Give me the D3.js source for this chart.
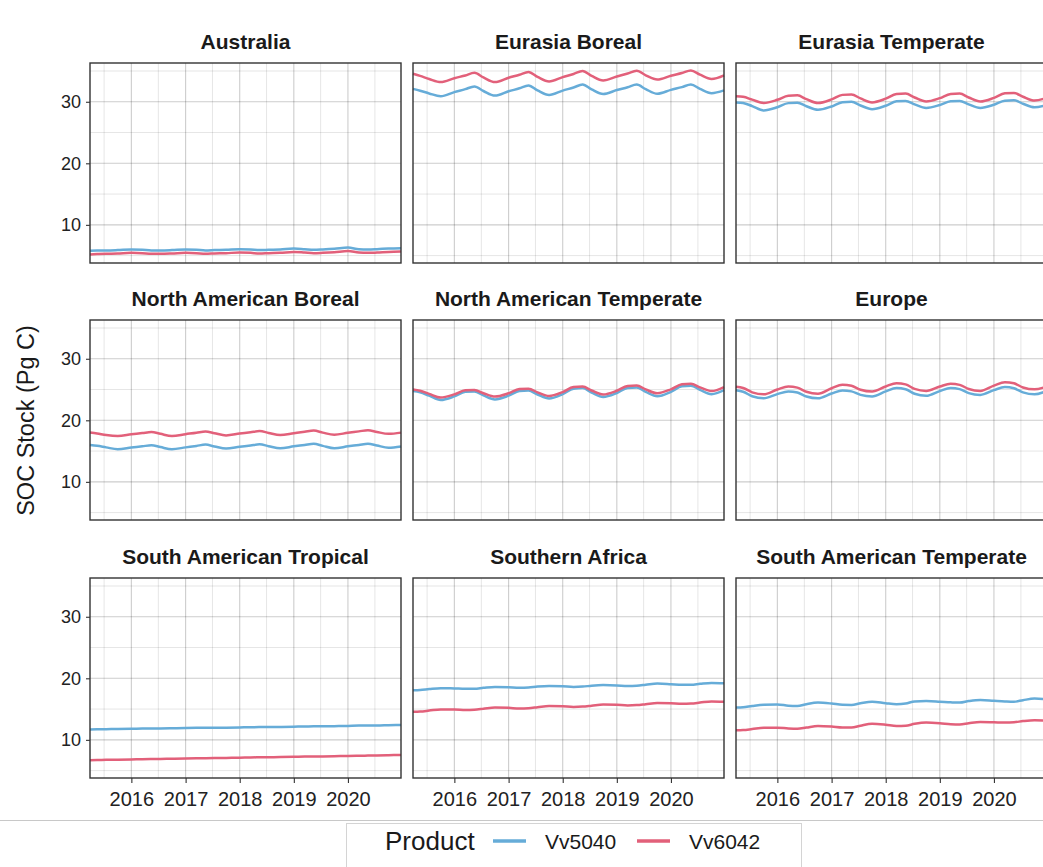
<!DOCTYPE html>
<html>
<head>
<meta charset="utf-8">
<script src="https://cdn.jsdelivr.net/npm/d3@7"></script>
<style>
  body { margin: 0; background: #fff; }
  text { font-family: "Liberation Sans", Arial, Helvetica, sans-serif; }
</style>
</head>
<body>
<svg id="chart"></svg>
<script>
// sample dates shared by every series
const dates = ["2015-03-28", "2015-05-15", "2015-07-15", "2015-10-01",
  "2016-01-01", "2016-03-15", "2016-05-15", "2016-07-15", "2016-10-01",
  "2017-01-01", "2017-03-15", "2017-05-15", "2017-07-15", "2017-10-01",
  "2018-01-01", "2018-03-15", "2018-05-15", "2018-07-15", "2018-10-01",
  "2019-01-01", "2019-03-15", "2019-05-15", "2019-07-15", "2019-10-01",
  "2020-01-01", "2020-03-15", "2020-05-15", "2020-07-15", "2020-10-01",
  "2020-12-24"];

const regions = ["Australia", "Eurasia Boreal", "Eurasia Temperate",
  "North American Boreal", "North American Temperate", "Europe",
  "South American Tropical", "Southern Africa", "South American Temperate"];

const products = ["Vv5040", "Vv6042"];
const yTicks = [10, 20, 30];
const xTickYears = [2016, 2017, 2018, 2019, 2020];

const australia5040 = [5.8, 5.85, 5.85, 5.9, 6.0, 5.95, 5.85, 5.85, 5.9, 6.0, 5.95, 5.85, 5.9, 5.95, 6.05, 6.0, 5.9, 5.95, 6.0, 6.15, 6.05, 5.95, 6.0, 6.1, 6.3, 6.05, 6.0, 6.05, 6.15, 6.2];
const australia6042 = [5.2, 5.25, 5.3, 5.35, 5.45, 5.4, 5.3, 5.3, 5.35, 5.45, 5.4, 5.3, 5.35, 5.4, 5.5, 5.45, 5.35, 5.4, 5.45, 5.6, 5.5, 5.4, 5.45, 5.55, 5.75, 5.5, 5.45, 5.5, 5.6, 5.65];
const eurasiaBoreal5040 = [32.1, 31.8, 31.35, 30.9, 31.57, 32.05, 32.5, 31.75, 31.0, 31.7, 32.19, 32.65, 31.85, 31.1, 31.81, 32.32, 32.8, 32.0, 31.25, 31.9, 32.37, 32.8, 32.05, 31.3, 31.93, 32.38, 32.8, 32.1, 31.4, 31.85];
const eurasiaBoreal6042 = [34.55, 34.2, 33.7, 33.2, 33.83, 34.28, 34.7, 33.95, 33.2, 33.9, 34.39, 34.85, 34.05, 33.3, 34.0, 34.52, 35.0, 34.2, 33.45, 34.1, 34.6, 35.05, 34.3, 33.6, 34.23, 34.68, 35.1, 34.4, 33.7, 34.3];
const eurasiaTemperate5040 = [29.9, 29.8, 29.3, 28.6, 29.12, 29.78, 29.84, 29.28, 28.7, 29.24, 29.93, 29.99, 29.4, 28.8, 29.36, 30.07, 30.14, 29.58, 29.0, 29.48, 30.09, 30.14, 29.58, 29.0, 29.52, 30.18, 30.24, 29.68, 29.1, 29.5];
const eurasiaTemperate6042 = [30.9, 30.8, 30.35, 29.8, 30.32, 30.98, 31.04, 30.42, 29.8, 30.38, 31.12, 31.18, 30.55, 29.9, 30.5, 31.27, 31.33, 30.7, 30.05, 30.59, 31.28, 31.33, 30.7, 30.05, 30.63, 31.37, 31.44, 30.82, 30.2, 30.64];
const naBoreal5040 = [16.0, 15.85, 15.6, 15.3, 15.57, 15.77, 15.95, 15.65, 15.3, 15.6, 15.84, 16.05, 15.75, 15.4, 15.69, 15.9, 16.1, 15.8, 15.45, 15.77, 16.0, 16.2, 15.85, 15.45, 15.77, 16.0, 16.2, 15.9, 15.55, 15.75];
const naBoreal6042 = [18.0, 17.85, 17.6, 17.45, 17.72, 17.92, 18.1, 17.8, 17.45, 17.75, 17.98, 18.2, 17.9, 17.55, 17.84, 18.05, 18.25, 17.95, 17.6, 17.9, 18.14, 18.35, 18.0, 17.65, 17.97, 18.2, 18.4, 18.1, 17.8, 18.0];
const naTemperate5040 = [24.75, 24.55, 24.0, 23.3, 23.88, 24.62, 24.68, 24.05, 23.4, 24.0, 24.77, 24.83, 24.2, 23.55, 24.25, 25.14, 25.23, 24.52, 23.8, 24.44, 25.26, 25.33, 24.62, 23.9, 24.62, 25.54, 25.63, 24.95, 24.25, 24.9];
const naTemperate6042 = [25.0, 24.8, 24.3, 23.7, 24.22, 24.88, 24.94, 24.4, 23.85, 24.39, 25.08, 25.14, 24.55, 23.95, 24.59, 25.41, 25.48, 24.85, 24.2, 24.8, 25.57, 25.64, 25.02, 24.4, 25.04, 25.86, 25.94, 25.35, 24.75, 25.4];
const europe5040 = [24.9, 24.64, 23.91, 23.58, 24.26, 24.7, 24.52, 23.87, 23.58, 24.35, 24.85, 24.7, 24.13, 23.88, 24.71, 25.24, 25.04, 24.31, 23.98, 24.75, 25.25, 25.07, 24.42, 24.13, 24.9, 25.4, 25.21, 24.54, 24.23, 24.8];
const europe6042 = [25.45, 25.25, 24.55, 24.22, 25.0, 25.5, 25.31, 24.64, 24.33, 25.21, 25.79, 25.62, 24.97, 24.68, 25.5, 26.04, 25.84, 25.11, 24.78, 25.49, 25.95, 25.76, 25.09, 24.78, 25.64, 26.19, 26.01, 25.34, 25.03, 25.5];
const saTropical5040 = [11.7, 11.72, 11.74, 11.76, 11.8, 11.84, 11.86, 11.86, 11.88, 11.92, 11.95, 11.96, 11.96, 11.98, 12.02, 12.06, 12.07, 12.07, 12.1, 12.14, 12.18, 12.19, 12.19, 12.22, 12.27, 12.32, 12.33, 12.33, 12.38, 12.42];
const saTropical6042 = [6.7, 6.72, 6.75, 6.78, 6.82, 6.86, 6.88, 6.9, 6.93, 6.97, 7.0, 7.02, 7.04, 7.07, 7.1, 7.14, 7.16, 7.18, 7.2, 7.24, 7.28, 7.3, 7.31, 7.34, 7.38, 7.42, 7.44, 7.46, 7.5, 7.55];
const southernAfrica5040 = [18.05, 18.1, 18.25, 18.4, 18.35, 18.3, 18.3, 18.45, 18.6, 18.55, 18.45, 18.5, 18.65, 18.75, 18.7, 18.6, 18.65, 18.8, 18.9, 18.85, 18.75, 18.8, 18.95, 19.15, 19.05, 18.95, 18.95, 19.1, 19.25, 19.2];
const southernAfrica6042 = [14.55, 14.6, 14.75, 14.95, 14.95, 14.85, 14.9, 15.05, 15.25, 15.2, 15.1, 15.15, 15.3, 15.5, 15.45, 15.35, 15.4, 15.55, 15.75, 15.7, 15.6, 15.65, 15.8, 16.0, 15.95, 15.85, 15.9, 16.05, 16.25, 16.2];
const saTemperate5040 = [15.24, 15.3, 15.5, 15.7, 15.75, 15.55, 15.5, 15.8, 16.05, 15.9, 15.7, 15.68, 15.95, 16.2, 15.95, 15.8, 15.9, 16.25, 16.3, 16.2, 16.1, 16.05, 16.3, 16.48, 16.35, 16.25, 16.2, 16.45, 16.7, 16.6];
const saTemperate6042 = [11.55, 11.6, 11.75, 11.95, 11.98, 11.85, 11.8, 12.0, 12.25, 12.15, 12.0, 12.0, 12.3, 12.6, 12.45, 12.25, 12.3, 12.6, 12.8, 12.7, 12.55, 12.5, 12.7, 12.9, 12.85, 12.8, 12.85, 13.05, 13.2, 13.1];

// series per region, same order as regions[]
const seriesByRegion = [
  [australia5040, australia6042],
  [eurasiaBoreal5040, eurasiaBoreal6042],
  [eurasiaTemperate5040, eurasiaTemperate6042],
  [naBoreal5040, naBoreal6042],
  [naTemperate5040, naTemperate6042],
  [europe5040, europe6042],
  [saTropical5040, saTropical6042],
  [southernAfrica5040, southernAfrica6042],
  [saTemperate5040, saTemperate6042]
];

const width = 1043, height = 867;
const colors = {Vv5040: "#66acd8", Vv6042: "#e2607a"};

const svg = d3.select("#chart")
  .attr("width", width)
  .attr("height", height);

// facet layout
const panelW = 311, panelH = 200;
const colX = [90, 413, 736];
const rowY = [63, 320, 578];

const parse = d3.timeParse("%Y-%m-%d");
const times = dates.map(parse);

const x = d3.scaleTime()
  .domain(d3.extent(times))
  .range([0, panelW]);

const y = d3.scaleLinear()
  .domain([3.8, 36.3])
  .range([panelH, 0]);

const line = d3.line()
  .x(d => x(d.t))
  .y(d => y(d.v))
  .curve(d3.curveMonotoneX);

const majorX = xTickYears.map(yr => new Date(yr, 0, 1));
const minorX = d3.range(2015, 2021).map(yr => new Date(yr, 6, 1));
const minorY = [5, 15, 25, 35];

regions.forEach((name, i) => {
  const col = i % 3, row = Math.floor(i / 3);
  const g = svg.append("g")
    .attr("transform", `translate(${colX[col]},${rowY[row]})`);

  g.append("rect")
    .attr("width", panelW).attr("height", panelH)
    .attr("fill", "#fff");

  // grid: minor first, then major
  g.selectAll(".gminy").data(minorY).join("line")
    .attr("x1", 0).attr("x2", panelW)
    .attr("y1", d => y(d)).attr("y2", d => y(d))
    .attr("stroke", "#000").attr("stroke-opacity", 0.1).attr("stroke-width", 1);
  g.selectAll(".gminx").data(minorX).join("line")
    .attr("y1", 0).attr("y2", panelH)
    .attr("x1", d => x(d)).attr("x2", d => x(d))
    .attr("stroke", "#000").attr("stroke-opacity", 0.1).attr("stroke-width", 1);
  g.selectAll(".gmajy").data(yTicks).join("line")
    .attr("x1", 0).attr("x2", panelW)
    .attr("y1", d => y(d)).attr("y2", d => y(d))
    .attr("stroke", "#000").attr("stroke-opacity", 0.2).attr("stroke-width", 1.1);
  g.selectAll(".gmajx").data(majorX).join("line")
    .attr("y1", 0).attr("y2", panelH)
    .attr("x1", d => x(d)).attr("x2", d => x(d))
    .attr("stroke", "#000").attr("stroke-opacity", 0.2).attr("stroke-width", 1.1);

  // the two product lines
  products.forEach((p, k) => {
    const vals = seriesByRegion[i][k].map((v, j) => ({t: times[j], v: v}));
    g.append("path")
      .datum(vals)
      .attr("d", line)
      .attr("fill", "none")
      .attr("stroke", colors[p])
      .attr("stroke-width", 2.5)
      .attr("stroke-linejoin", "round");
  });

  // panel border
  g.append("rect")
    .attr("width", panelW).attr("height", panelH)
    .attr("fill", "none").attr("stroke", "#333").attr("stroke-width", 1.4);

  // strip title
  g.append("text")
    .attr("x", panelW / 2).attr("y", -14)
    .attr("text-anchor", "middle")
    .attr("font-size", 21).attr("font-weight", "bold")
    .attr("fill", "#1a1a1a")
    .text(name);

  // y axis on first column only
  if (col === 0) {
    const ya = g.append("g")
      .call(d3.axisLeft(y).tickValues(yTicks).tickSize(4).tickPadding(5));
    ya.select(".domain").remove();
    ya.selectAll(".tick line").attr("stroke", "#333").attr("stroke-width", 1.1);
    ya.selectAll(".tick text").attr("font-size", 18).attr("fill", "#222")
      .attr("font-family", "Liberation Sans, Arial, sans-serif");
  }

  // x axis on the bottom row only
  if (row === 2) {
    const xa = g.append("g")
      .attr("transform", `translate(0,${panelH})`)
      .call(d3.axisBottom(x).tickValues(majorX).tickFormat(d3.timeFormat("%Y"))
        .tickSize(5).tickPadding(9));
    xa.select(".domain").remove();
    xa.selectAll(".tick line").attr("stroke", "#333").attr("stroke-width", 1.1);
    xa.selectAll(".tick text").attr("font-size", 20).attr("fill", "#222")
      .attr("font-family", "Liberation Sans, Arial, sans-serif");
  }
});

// y axis title
svg.append("text")
  .attr("transform", `translate(34,${rowY[0] + (rowY[2] + panelH - rowY[0]) / 2}) rotate(-90)`)
  .attr("text-anchor", "middle")
  .attr("font-size", 23.5)
  .attr("fill", "#1a1a1a")
  .text("SOC Stock (Pg C)");

// separator line above the legend
svg.append("line")
  .attr("x1", 0).attr("x2", width)
  .attr("y1", 820.5).attr("y2", 820.5)
  .attr("stroke", "#c8c8c8").attr("stroke-width", 1.2);

// legend
const legend = svg.append("g");
legend.append("rect")
  .attr("x", 346.5).attr("y", 823.5)
  .attr("width", 455).attr("height", 60)
  .attr("fill", "#fff").attr("stroke", "#d4d4d4").attr("stroke-width", 1);

legend.append("text")
  .attr("x", 385).attr("y", 850)
  .attr("font-size", 26).attr("fill", "#1a1a1a")
  .text("Product");

const legendX = [493, 637];
products.forEach((p, k) => {
  legend.append("line")
    .attr("x1", legendX[k]).attr("x2", legendX[k] + 33)
    .attr("y1", 841).attr("y2", 841)
    .attr("stroke", colors[p]).attr("stroke-width", 3.5);
  legend.append("text")
    .attr("x", legendX[k] + 52).attr("y", 848.5)
    .attr("font-size", 21).attr("fill", "#1a1a1a")
    .text(p);
});
</script>
</body>
</html>
